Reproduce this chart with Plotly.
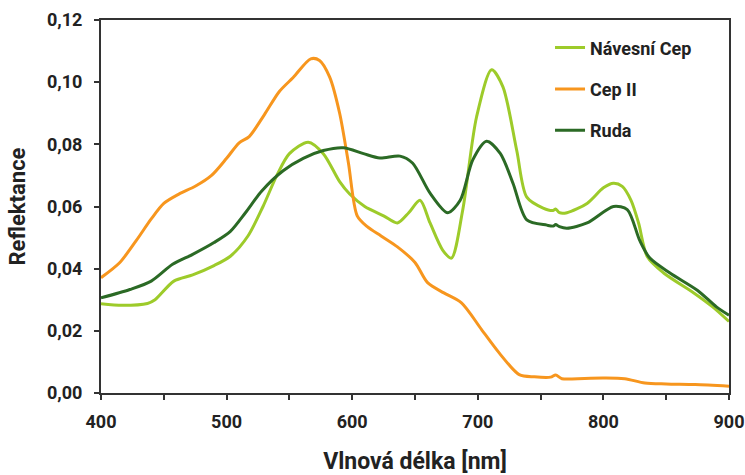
import plotly.graph_objects as go

# Návesní Cep
nc_x = [400, 417, 437, 443, 458, 473, 490, 503, 517, 529, 540, 550, 565, 577, 590, 598, 610, 625, 636, 645, 654, 662, 672, 679, 688, 699, 711, 720, 731, 739, 752, 760, 762, 765, 771, 787, 800, 808, 815, 822, 828, 835, 848, 872, 887, 900]
nc_y = [0.0287, 0.0282, 0.0288, 0.030, 0.036, 0.038, 0.041, 0.044, 0.0505, 0.060, 0.070, 0.077, 0.0807, 0.077, 0.068, 0.064, 0.060, 0.057, 0.0547, 0.058, 0.062, 0.0547, 0.046, 0.0434, 0.0589, 0.0888, 0.104, 0.0985, 0.078, 0.063, 0.0595, 0.0587, 0.0592, 0.058, 0.058, 0.061, 0.066, 0.0675, 0.0665, 0.062, 0.0547, 0.0438, 0.0386, 0.0322, 0.0277, 0.023]

# Cep II
c2_x = [400, 415, 428, 440, 450, 462, 475, 488, 500, 510, 518, 530, 542, 553, 567, 574, 582, 590, 597, 604, 612, 623, 636, 650, 660, 673, 687, 703, 717, 733, 745, 758, 762, 767, 785, 800, 817, 833, 850, 873, 900]
c2_y = [0.0371, 0.042, 0.049, 0.056, 0.061, 0.064, 0.0665, 0.070, 0.0755, 0.0805, 0.0825, 0.0895, 0.097, 0.1015, 0.1075, 0.107, 0.1017, 0.090, 0.074, 0.057, 0.0535, 0.0505, 0.047, 0.042, 0.0355, 0.0322, 0.029, 0.0204, 0.0129, 0.0059, 0.0052, 0.0051, 0.0058, 0.0046, 0.0047, 0.0048, 0.0046, 0.0032, 0.0029, 0.0027, 0.0022]

# Ruda
ru_x = [400, 423, 440, 457, 473, 490, 503, 515, 528, 545, 561, 577, 593, 609, 622, 638, 648, 662, 676, 686, 696, 707, 718, 728, 739, 755, 760, 762, 765, 771, 787, 808, 819, 829, 837, 853, 875, 890, 900]
ru_y = [0.0306, 0.0333, 0.036, 0.0414, 0.0446, 0.0484, 0.052, 0.058, 0.065, 0.0715, 0.0755, 0.078, 0.0789, 0.077, 0.0756, 0.0762, 0.074, 0.0643, 0.058, 0.062, 0.075, 0.081, 0.077, 0.0675, 0.0557, 0.054, 0.0537, 0.0542, 0.0535, 0.053, 0.0547, 0.060, 0.059, 0.049, 0.0434, 0.0386, 0.033, 0.0277, 0.025]

x_ticks = [400, 450, 500, 550, 600, 650, 700, 750, 800, 850, 900]
x_ticktext = ["400", "", "500", "", "600", "", "700", "", "800", "", "900"]
y_ticks = [0.00, 0.02, 0.04, 0.06, 0.08, 0.10, 0.12]

series = [
    ("Návesní Cep", nc_x, nc_y, "#9dcb2a"),
    ("Cep II", c2_x, c2_y, "#f7961e"),
    ("Ruda", ru_x, ru_y, "#2b6a25"),
]

fig = go.Figure()
for i, (name, xs, ys, col) in enumerate(series):
    fig.add_trace(go.Scatter(
        x=xs, y=ys, name=name, mode="lines",
        line=dict(color=col, width=3, shape="spline", smoothing=0.8),
        legendgroup=f"g{i}",
    ))

font_family = "Roboto, Arial, sans-serif"
axis_common = dict(
    showline=True, linecolor="#333333", linewidth=2, mirror=True,
    ticks="outside", ticklen=5, tickwidth=2, tickcolor="#333333",
    showgrid=False, zeroline=False, automargin=False,
    tickfont=dict(family=font_family, size=18, color="#222222", weight="bold"),
)

fig.update_layout(
    width=745, height=475,
    margin=dict(l=101, r=16, t=20, b=82),
    paper_bgcolor="white", plot_bgcolor="white",
    separators=", ",
    font=dict(family=font_family, color="#222222"),
    xaxis=dict(range=[400, 900], tickvals=x_ticks, ticktext=x_ticktext,
               title=dict(text="Vlnová délka [nm]", standoff=22,
                          font=dict(family=font_family, size=23, color="#222222", weight="bold")),
               ticklabelstandoff=6, **axis_common),
    yaxis=dict(range=[0, 0.12], tickvals=y_ticks, tickformat=".2f",
               title=dict(text="Reflektance", standoff=15,
                          font=dict(family=font_family, size=22, color="#222222", weight="bold")),
               ticklabelstandoff=8, **axis_common),
    legend=dict(x=0.715, y=0.975, xanchor="left", yanchor="top",
                bgcolor="rgba(0,0,0,0)", tracegroupgap=15,
                font=dict(family=font_family, size=18, color="#222222", weight="bold")),
    showlegend=True,
)

fig.write_html("out.html", config={"displayModeBar": False},
               post_script="document.body.style.margin='0';")
